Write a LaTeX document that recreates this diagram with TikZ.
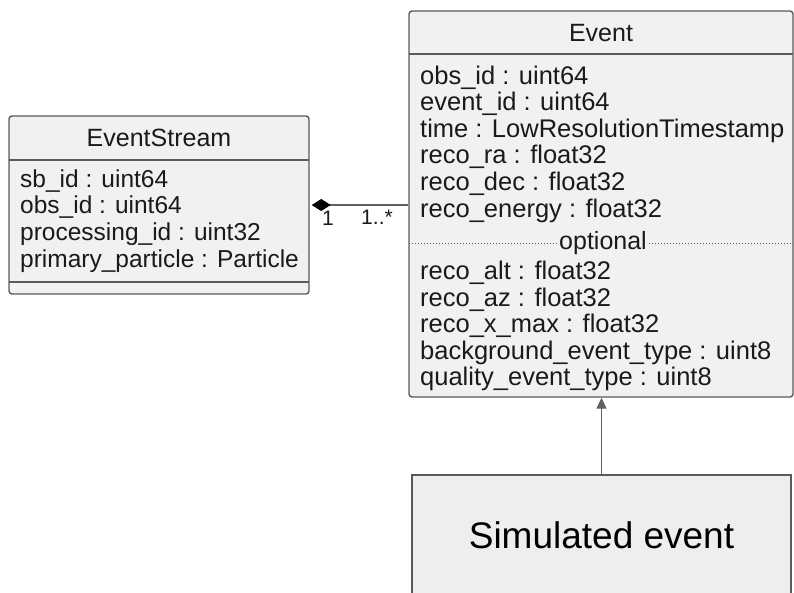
\documentclass[tikz,border=0pt]{standalone}
\usepackage{fontspec}
\setmainfont{Liberation Sans}
\usepackage{xcolor}
\usepackage{tikz}
\usetikzlibrary{arrows.meta}

\definecolor{boxfill}{HTML}{F1F1F1}
\definecolor{boxline}{HTML}{5A5A5A}
\definecolor{simfill}{HTML}{EEEEEE}
\definecolor{textcol}{HTML}{1A1A1A}
\definecolor{linkcol}{HTML}{606060}

\tikzset{
  classbox/.style={draw=boxline, fill=boxfill, line width=1.4pt, rounded corners=3pt, inner sep=0pt},
  classtitle/.style={font=\fontsize{25}{26.6}\selectfont, text=textcol, inner sep=0pt},
  attrs/.style={font=\fontsize{25.5}{26.6}\selectfont, text=textcol, align=left, anchor=west, inner sep=0pt},
  sepline/.style={draw=boxline, line width=1.4pt},
  mult/.style={font=\fontsize{21}{24}\selectfont, text=textcol, inner sep=0pt},
  link/.style={draw=linkcol, line width=1.3pt},
}

\begin{document}
\begin{tikzpicture}[x=1pt, y=-1pt]
\useasboundingbox (0,0) rectangle (794,592);

% Classe EventStream
\node[classbox, minimum width=300pt, minimum height=178pt] (stream) at (159,205) {};
\node[classtitle] (streamtitle) at (159,138) {EventStream};
\draw[sepline] (9,160) -- (309,160);
\node[attrs, font=\fontsize{24.5}{26.8}\selectfont] (streamattrs) at (20,221) {sb\_id : uint64\\obs\_id : uint64\\processing\_id : uint32\\primary\_particle : Particle};
\draw[sepline] (9,282) -- (309,282);

% Classe Event
\node[classbox, minimum width=384pt, minimum height=386pt] (event) at (601,204) {};
\node[classtitle] (eventtitle) at (601,33) {Event};
\draw[sepline] (409,54) -- (793,54);
\node[attrs] (eventattrs) at (420,144) {obs\_id : uint64\\event\_id : uint64\\time : LowResolutionTimestamp\\reco\_ra : float32\\reco\_dec : float32\\reco\_energy : float32};

% Separatore tratteggiato
\draw[boxline, dotted, line width=1pt] (409,243) -- (793,243);
\node[classtitle, fill=boxfill, inner xsep=1pt] (optional) at (603,243) {optional};
\node[attrs] (optattrs) at (420,326) {reco\_alt : float32\\reco\_az : float32\\reco\_x\_max : float32\\background\_event\_type : uint8\\quality\_event\_type : uint8};

% Evento simulato
\node[draw=boxline, fill=simfill, line width=1.4pt, minimum width=379pt, minimum height=120pt, font=\fontsize{37}{40}\selectfont, text=black] (sim) at (601.5,535) {Simulated event};

% Composizione
\draw[link, {Diamond[length=19pt,width=12pt,color=black]}-, shorten <=2pt] (stream.east) -- (stream.east -| event.west);
\node[mult] (m1) at (328,218) {1};
\node[mult] (m2) at (377,217) {1..*};

% Generalizzazione
\draw[link, -{Triangle[length=11pt,width=10pt]}] (sim.north) -- (sim.north |- event.south);

\end{tikzpicture}
\end{document}
